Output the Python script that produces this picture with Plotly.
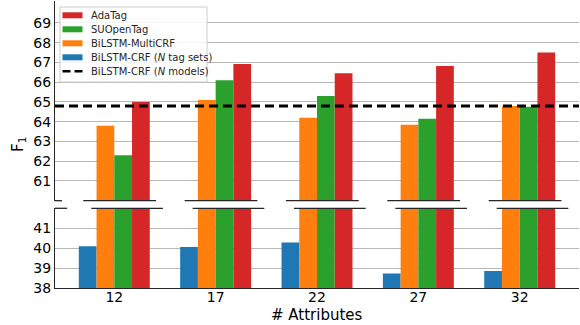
import plotly.graph_objects as go

# ---- data ----
categories = ["12", "17", "22", "27", "32"]
bilstm_crf_tagsets = [40.1, 40.06, 40.28, 38.73, 38.85]
bilstm_multicrf = [63.8, 65.1, 64.2, 63.85, 64.8]
suopentag = [62.3, 66.1, 65.3, 64.15, 64.75]
adatag = [65.0, 66.92, 66.45, 66.82, 67.5]
bilstm_crf_models = 64.8

upper_ticks = [61, 62, 63, 64, 65, 66, 67, 68, 69]
lower_ticks = [38, 39, 40, 41]

series = [
    ("BiLSTM-CRF (<i>N</i> tag sets)", bilstm_crf_tagsets, "#1f77b4"),
    ("BiLSTM-MultiCRF", bilstm_multicrf, "#ff7f0e"),
    ("SUOpenTag", suopentag, "#2ca02c"),
    ("AdaTag", adatag, "#d62728"),
]
models_name = "BiLSTM-CRF (<i>N</i> models)"
legend_order = ["AdaTag", "SUOpenTag", "BiLSTM-MultiCRF",
                "BiLSTM-CRF (<i>N</i> tag sets)", models_name]

FONT = "DejaVu Sans"
W, H = 580, 325
ML, MR, MT, MB = 55, 1, 1, 37
PW, PH = W - ML - MR, H - MT - MB


def px(x):
    return (x - ML) / PW


def py(y):
    return (H - MB - y) / PH


xpos = list(range(len(categories)))
bar_w = 0.175
x_range = [-0.585, len(categories) - 1 + 0.585]

fig = go.Figure()
for i, (name, vals, color) in enumerate(series):
    off = -2 * bar_w + i * bar_w
    for yax in ("y2", "y"):
        fig.add_trace(go.Bar(
            x=xpos, y=vals, name=name, yaxis=yax, xaxis="x",
            width=bar_w, offset=off, marker=dict(color=color, line=dict(width=0)),
            showlegend=False,
        ))

fig.add_trace(go.Scatter(
    x=x_range, y=[bilstm_crf_models, bilstm_crf_models], mode="lines",
    yaxis="y2", xaxis="x", name=models_name, showlegend=False,
    line=dict(color="black", width=3, dash="9px,5px"),
))

# break marks
shapes = []
brk = dict(color="#262626", width=1.3)
up_off = (-0.306, 0.412)
lo_off = (-0.227, 0.48)
for c in xpos:
    shapes.append(dict(type="line", xref="x", yref="y2 domain", x0=c + up_off[0], x1=c + up_off[1], y0=0, y1=0, line=brk))
    shapes.append(dict(type="line", xref="x", yref="y domain", x0=c + lo_off[0], x1=c + lo_off[1], y0=1, y1=1, line=brk))
shapes.append(dict(type="line", xref="x", yref="y2 domain", x0=x_range[0] - 0.1, x1=x_range[0] + 0.07, y0=0, y1=0, line=brk))
shapes.append(dict(type="line", xref="x", yref="y domain", x0=x_range[0] - 0.07, x1=x_range[0] + 0.12, y0=1, y1=1, line=brk))

# custom legend (matplotlib-like)
annotations = []
shapes.append(dict(type="rect", xref="paper", yref="paper", x0=px(60), x1=px(207), y0=py(82), y1=py(7),
                   fillcolor="rgba(255,255,255,0.85)", line=dict(color="#cccccc", width=1), layer="above"))
colors = {name: color for name, _, color in series}
row_y = [15.3, 29.3, 43.3, 57.3, 71.3]
for name, yy in zip(legend_order, row_y):
    if name in colors:
        shapes.append(dict(type="rect", xref="paper", yref="paper", x0=px(62.5), x1=px(82.5),
                           y0=py(yy + 3), y1=py(yy - 3), fillcolor=colors[name],
                           line=dict(width=0), layer="above"))
    else:
        shapes.append(dict(type="line", xref="paper", yref="paper", x0=px(62.5), x1=px(82.5),
                           y0=py(yy), y1=py(yy), line=dict(color="black", width=2.5, dash="8px,4px"),
                           layer="above"))
    annotations.append(dict(text=name, xref="paper", yref="paper", x=px(89), y=py(yy),
                            xanchor="left", yanchor="middle", showarrow=False,
                            font=dict(size=10, family=FONT, color="#262626")))

annotations += [
    dict(text="F<sub>1</sub>", xref="paper", yref="paper", x=px(18), y=py(145),
         textangle=-90, showarrow=False, font=dict(size=15), xanchor="center", yanchor="middle"),
    dict(text="# Attributes", xref="paper", yref="paper", x=0.5, y=py(315),
         showarrow=False, font=dict(size=15), xanchor="center", yanchor="middle"),
]

fig.update_layout(
    width=W, height=H,
    margin=dict(l=ML, r=MR, t=MT, b=MB),
    paper_bgcolor="white", plot_bgcolor="white",
    barmode="overlay", showlegend=False,
    font=dict(family=FONT, size=14, color="black"),
    shapes=shapes, annotations=annotations,
    xaxis=dict(
        range=x_range, tickvals=xpos, ticktext=categories, anchor="y",
        showline=True, linecolor="#262626", linewidth=1.3, ticks="",
        showgrid=False, zeroline=False, tickfont=dict(size=14),
        ticklabelstandoff=-4,
    ),
    yaxis=dict(
        domain=[0, 79.7 / PH], range=[38, 42], tickvals=lower_ticks,
        showline=True, linecolor="#262626", linewidth=1.3, ticks="",
        showgrid=True, gridcolor="#b8b8b8", gridwidth=1, zeroline=False,
        tickfont=dict(size=14), anchor="x",
    ),
    yaxis2=dict(
        domain=[py(200.7), 1], range=[60, 70.11], tickvals=upper_ticks,
        showline=True, linecolor="#262626", linewidth=1.3, ticks="",
        showgrid=True, gridcolor="#b8b8b8", gridwidth=1, zeroline=False,
        tickfont=dict(size=14), anchor="x",
    ),
)

fig.write_html("out.html", config={"displayModeBar": False},
               post_script="document.body.style.margin='0';")
